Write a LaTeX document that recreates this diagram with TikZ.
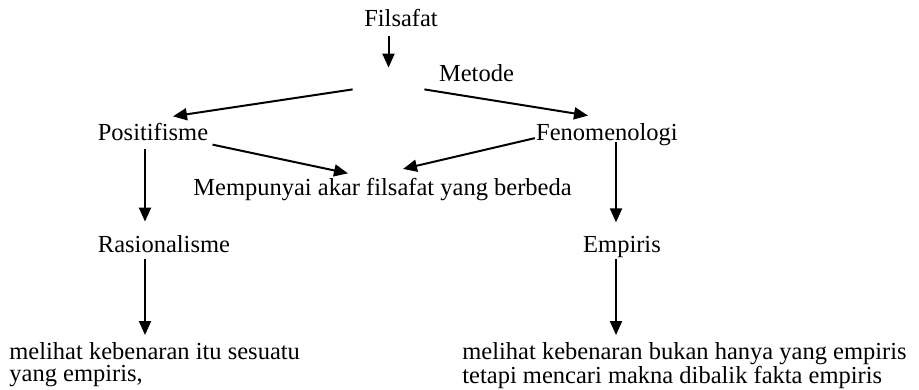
\documentclass[tikz,border=0pt]{standalone}
\usepackage{fontspec}
\setmainfont{Liberation Serif}
\usetikzlibrary{arrows.meta,positioning}

\begin{document}
\begin{tikzpicture}[x=0.5pt,y=-0.5pt,
    every node/.style={font=\fontsize{12.25}{10.8}\selectfont,inner sep=2pt},
    arr/.style={draw=black,line width=1pt,-{Triangle[length=7pt,width=6pt]}}]
  \useasboundingbox (0,0) rectangle (919,390);
  \begin{scope}[every node/.append style={anchor=base}]
    \node (filsafat) at (401,27) {Filsafat};
    \node (metode) at (476.5,82) {Metode};
    \node (positif) at (153,140) {Positifisme};
    \node (fenom) at (607,140) {Fenomenologi};
    \node (akar) at (382.5,195) {Mempunyai akar filsafat yang berbeda};
    \node (rasio) at (164,252) {Rasionalisme};
    \node (empiris) at (622,252) {Empiris};
  \end{scope}
  \node[anchor=north west,align=left] (lihatL) at (5,338)
    {melihat kebenaran itu sesuatu\\yang empiris,};
  \node[anchor=north west,align=left] (lihatR) at (458,338)
    {melihat kebenaran bukan hanya yang empiris\\tetapi mencari makna dibalik fakta empiris};
  % split point under Filsafat
  \node[minimum width=35.5pt,minimum height=10.5pt,inner sep=0] (hub) at (388.5,78.5) {};
  \coordinate (colL) at (145,0);
  \coordinate (colR) at (616,0);

  \draw[arr,shorten <=2pt] (hub.north |- filsafat.south) -- (hub.north);
  \draw[arr] (hub.south west) -- ([xshift=10pt,yshift=1pt]positif.north);
  \draw[arr] (hub.south east) -- ([xshift=-9.5pt,yshift=1.5pt]fenom.north);
  \draw[arr] (positif.south east) -- ([xshift=-17.25pt]akar.north);
  \draw[arr] ([xshift=1.5pt,yshift=-2pt]fenom.west) -- ([xshift=10.25pt,yshift=2.2pt]akar.north);

  \draw[arr,shorten <=2pt,shorten >=4.5pt] (positif.south -| colL) -- (rasio.north -| colL);
  \draw[arr,shorten <=1pt,shorten >=1.5pt] (rasio.south -| colL) -- (lihatL.north -| colL);
  \draw[arr,shorten <=-4pt,shorten >=4.5pt] (fenom.south -| colR) -- (empiris.north -| colR);
  \draw[arr,shorten <=-1.5pt,shorten >=1.5pt] (empiris.south -| colR) -- (lihatR.north -| colR);
\end{tikzpicture}
\end{document}
